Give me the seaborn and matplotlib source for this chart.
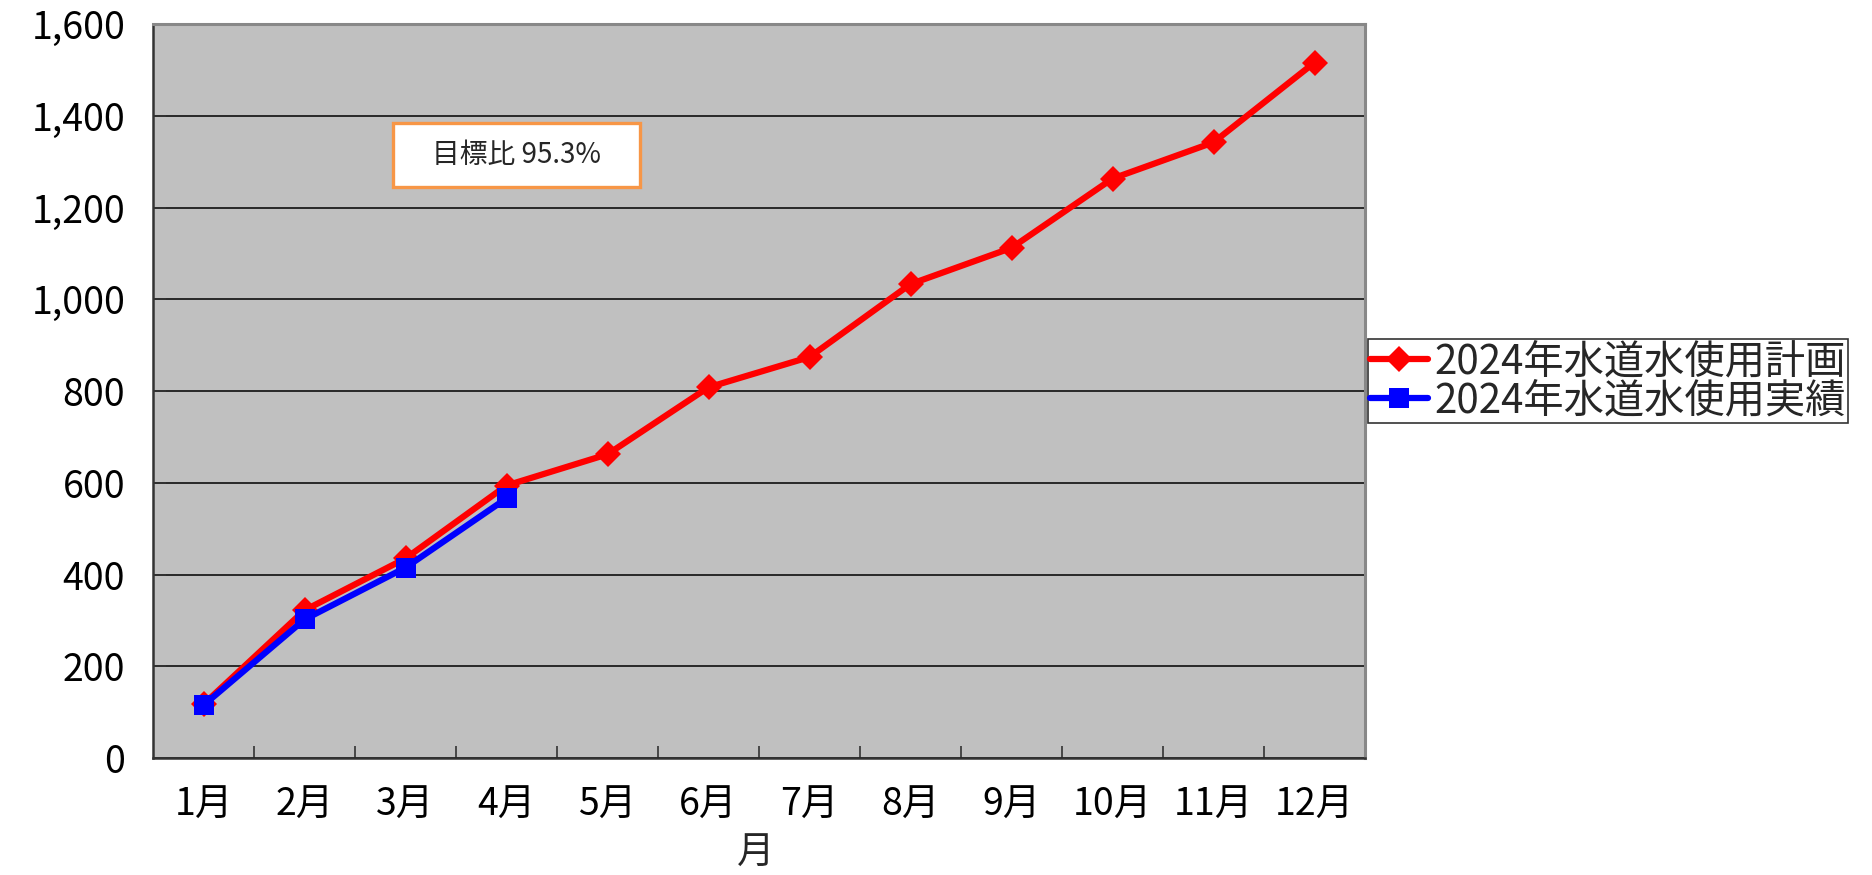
import matplotlib
matplotlib.use("Agg")
import matplotlib.pyplot as plt
import matplotlib.patches as mpatches
from matplotlib.lines import Line2D
from matplotlib.ticker import FuncFormatter, MultipleLocator
import seaborn as sns
import pandas as pd

months = ["1月", "2月", "3月", "4月", "5月", "6月", "7月", "8月", "9月", "10月", "11月", "12月"]
plan_values = [117, 322, 435, 594, 662, 808, 874, 1033, 1112, 1263, 1342, 1516]
actual_values = [115, 302, 415, 566]
plan_label = "2024年水道水使用計画"
actual_label = "2024年水道水使用実績"
x_label = "月"
note_text = "目標比 95.3%"

sns.set_theme(style="white")
plt.rcParams["font.family"] = ["Noto Sans CJK JP", "DejaVu Sans"]

fig = plt.figure(figsize=(18.72, 8.75), dpi=100)
ax = fig.add_axes([153 / 1872, 1 - 758 / 875, (1365 - 153) / 1872, (758 - 24) / 875])
ax.set_facecolor("#C0C0C0")

df_plan = pd.DataFrame({"month": range(len(plan_values)), "value": plan_values})
df_act = pd.DataFrame({"month": range(len(actual_values)), "value": actual_values})

sns.lineplot(data=df_plan, x="month", y="value", ax=ax, color="#FF0000",
             linewidth=4.5, marker="D", markersize=13, markeredgewidth=0, zorder=3)
sns.lineplot(data=df_act, x="month", y="value", ax=ax, color="#0000FF",
             linewidth=4.5, marker="s", markersize=15, markeredgewidth=0, zorder=4)

ax.set_xlim(-0.5, len(months) - 0.5)
ax.set_ylim(0, 1600)
ax.yaxis.set_major_locator(MultipleLocator(200))
ax.yaxis.set_major_formatter(FuncFormatter(lambda v, p: f"{int(v):,}"))
ax.set_xticks(range(len(months)))
ax.set_xticklabels(months)
ax.set_xticks([i + 0.5 for i in range(len(months) - 1)], minor=True)

ax.grid(axis="y", color="black", linewidth=1.1)
ax.grid(axis="x", visible=False)
ax.set_axisbelow(True)

ax.tick_params(axis="x", which="major", length=0, pad=20, labelsize=27, labelcolor="black")
ax.tick_params(axis="x", which="minor", direction="in", length=9, width=1.2, color="#333333", bottom=True)
ax.tick_params(axis="y", which="major", direction="in", length=9, width=1.2, color="#333333",
               left=True, pad=20, labelsize=27, labelcolor="black")

for side in ["left", "bottom"]:
    ax.spines[side].set_color("#333333")
    ax.spines[side].set_linewidth(1.8)
for side in ["top", "right"]:
    ax.spines[side].set_color("#888888")
    ax.spines[side].set_linewidth(2.2)

ax.set_xlabel("")
ax.set_ylabel("")
fig.text(756 / 1872, 1 - 853 / 875, x_label, ha="center", va="center", fontsize=27)

handles = [
    Line2D([], [], color="#FF0000", linewidth=4.5, marker="D", markersize=13, markeredgewidth=0),
    Line2D([], [], color="#0000FF", linewidth=4.5, marker="s", markersize=15, markeredgewidth=0),
]
leg = fig.legend(handles, [plan_label, actual_label], loc="upper left",
                 bbox_to_anchor=(1368 / 1872, 1 - 339 / 875), fontsize=29,
                 frameon=True, fancybox=False, borderpad=0.05, handlelength=1.45,
                 handletextpad=0.15, labelspacing=-0.05, borderaxespad=0)
leg.get_frame().set_edgecolor("black")
leg.get_frame().set_linewidth(1.2)
leg.get_frame().set_facecolor("white")

rect = mpatches.Rectangle((393 / 1872, 1 - 187 / 875), (640 - 393) / 1872, (187 - 123) / 875,
                          transform=fig.transFigure, facecolor="white", edgecolor="#F79646",
                          linewidth=2.4, zorder=5)
fig.patches.append(rect)
fig.text(516 / 1872, 1 - 155 / 875, note_text, ha="center", va="center", fontsize=20, zorder=6)

fig.savefig("out.png", dpi=100)
